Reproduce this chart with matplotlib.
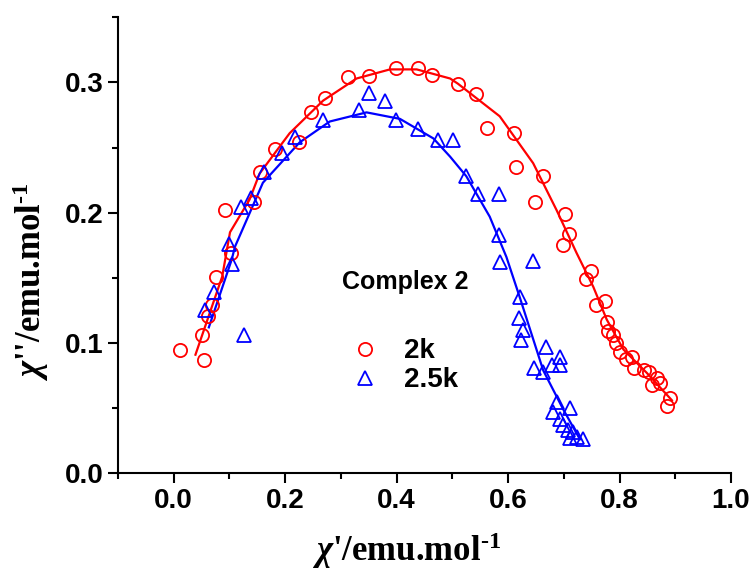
import numpy as np
import matplotlib
matplotlib.use('Agg')
import matplotlib.pyplot as plt

plt.rcParams['font.family'] = ['Liberation Sans', 'DejaVu Sans']
plt.rcParams['mathtext.fontset'] = 'custom'
plt.rcParams['mathtext.rm'] = 'Liberation Serif:bold'
plt.rcParams['mathtext.it'] = 'Liberation Serif:italic:bold'
plt.rcParams['mathtext.bf'] = 'Liberation Serif:bold'

# 2k data (chi', chi'')
x_2k = [0.011, 0.054, 0.051, 0.062, 0.069, 0.075, 0.102, 0.092, 0.144, 0.154,
        0.182, 0.225, 0.247, 0.271, 0.313, 0.350, 0.399, 0.439, 0.464, 0.510,
        0.543, 0.563, 0.610, 0.615, 0.662, 0.648, 0.702, 0.710, 0.699, 0.748,
        0.740, 0.774, 0.758, 0.777, 0.780, 0.789, 0.794, 0.801, 0.811, 0.822,
        0.826, 0.843, 0.852, 0.867, 0.859, 0.873, 0.890, 0.886]
y_2k = [0.095, 0.087, 0.106, 0.121, 0.129, 0.151, 0.169, 0.202, 0.208, 0.231,
        0.249, 0.254, 0.277, 0.288, 0.304, 0.305, 0.311, 0.311, 0.306, 0.299,
        0.291, 0.265, 0.261, 0.235, 0.228, 0.208, 0.199, 0.184, 0.175, 0.155,
        0.149, 0.132, 0.129, 0.116, 0.109, 0.106, 0.100, 0.093, 0.088, 0.089,
        0.081, 0.079, 0.078, 0.073, 0.068, 0.069, 0.058, 0.052]

# 2.5k data
x_25k = [0.057, 0.072, 0.099, 0.105, 0.120, 0.126, 0.139, 0.162, 0.194, 0.218,
         0.268, 0.332, 0.351, 0.380, 0.398, 0.439, 0.475, 0.501, 0.525, 0.546,
         0.584, 0.584, 0.585, 0.644, 0.621, 0.620, 0.627, 0.624, 0.668, 0.693,
         0.647, 0.662, 0.678, 0.693, 0.687, 0.711, 0.681, 0.693, 0.699, 0.708,
         0.717, 0.711, 0.723, 0.735]
y_25k = [0.125, 0.139, 0.176, 0.161, 0.204, 0.106, 0.211, 0.231, 0.246, 0.258,
         0.271, 0.279, 0.292, 0.286, 0.271, 0.264, 0.256, 0.256, 0.228, 0.214,
         0.214, 0.183, 0.162, 0.163, 0.135, 0.119, 0.110, 0.102, 0.097, 0.089,
         0.081, 0.078, 0.083, 0.083, 0.055, 0.050, 0.047, 0.042, 0.037, 0.033,
         0.032, 0.027, 0.028, 0.026]

# fit curves
fx_2k = [0.039, 0.087, 0.101, 0.136, 0.154, 0.208, 0.268, 0.328, 0.388, 0.436,
         0.496, 0.510, 0.585, 0.645, 0.687, 0.723, 0.753, 0.777, 0.807, 0.849, 0.894]
fy_2k = [0.091, 0.151, 0.185, 0.210, 0.230, 0.261, 0.286, 0.303, 0.310, 0.310,
         0.303, 0.299, 0.274, 0.238, 0.202, 0.169, 0.143, 0.118, 0.095, 0.077, 0.056]

fx_25k = [0.063, 0.104, 0.110, 0.160, 0.226, 0.280, 0.346, 0.406, 0.466, 0.496,
          0.525, 0.567, 0.597, 0.621, 0.663, 0.699, 0.729]
fy_25k = [0.112, 0.164, 0.174, 0.223, 0.254, 0.270, 0.277, 0.272, 0.257, 0.243,
          0.228, 0.197, 0.166, 0.135, 0.079, 0.049, 0.026]

fig = plt.figure(figsize=(7.55, 5.72), dpi=100)
ax = fig.add_axes([0.1563, 0.1726, 0.8119, 0.7972])

ax.plot(fx_2k, fy_2k, color='red', lw=1.6)
ax.plot(fx_25k, fy_25k, color='blue', lw=1.6)
h1, = ax.plot(x_2k, y_2k, 'o', ms=9.5, mfc='none', mec='red', mew=1.3, label='2k')
h2, = ax.plot(x_25k, y_25k, '^', ms=10, mfc='none', mec='blue', mew=1.3, label='2.5k')

ax.set_xlim(-0.1, 1.0)
ax.set_ylim(0, 0.35)
ax.set_xticks([0.0, 0.2, 0.4, 0.6, 0.8, 1.0])
ax.set_xticks(np.arange(-0.1, 1.0, 0.2), minor=True)
ax.set_yticks([0.0, 0.1, 0.2, 0.3])
ax.set_yticks([0.05, 0.15, 0.25, 0.35], minor=True)
ax.xaxis.set_major_formatter(matplotlib.ticker.FormatStrFormatter('%.1f'))
ax.yaxis.set_major_formatter(matplotlib.ticker.FormatStrFormatter('%.1f'))
ax.tick_params(which='major', direction='out', length=7, width=1.5, labelsize=20)
ax.tick_params(which='minor', direction='out', length=4, width=1.5)
for lab in ax.get_xticklabels() + ax.get_yticklabels():
    lab.set_fontweight('bold')
for s in ['top', 'right']:
    ax.spines[s].set_visible(False)
for s in ['left', 'bottom']:
    ax.spines[s].set_linewidth(1.5)

ax.set_xlabel(r"$\chi$'/emu.mol$^{\text{-1}}$", fontsize=25, family='Liberation Serif',
              fontweight='bold')
ax.set_ylabel(r"$\chi$''/emu.mol$^{\text{-1}}$", fontsize=25, family='Liberation Serif',
              fontweight='bold')
ax.xaxis.set_label_coords(0.47, -0.125)
ax.yaxis.set_label_coords(-0.11, 0.42)

ax.text(0.469, 0.404, 'Complex 2', transform=ax.transAxes, fontsize=18,
        fontweight='bold', ha='center', va='baseline')
leg = ax.legend(handles=[h1, h2], loc='upper left', bbox_to_anchor=(0.358, 0.32),
                frameon=False, prop={'weight': 'bold', 'size': 20},
                handlelength=1.2, handletextpad=0.8, labelspacing=0.1,
                borderaxespad=0)

fig.savefig('out.png', dpi=100)
